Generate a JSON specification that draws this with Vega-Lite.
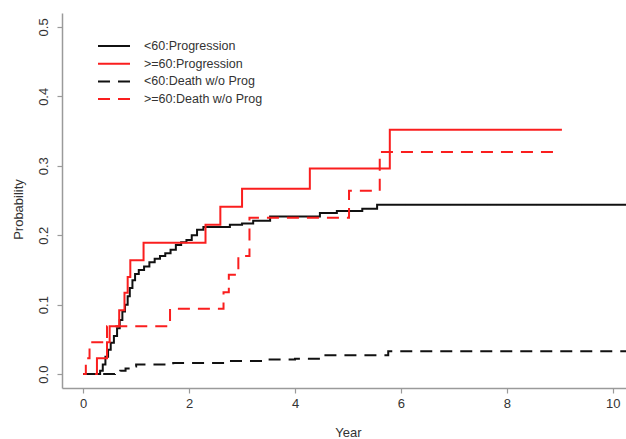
{
  "$schema": "https://vega.github.io/schema/vega-lite/v6.json",
  "autosize": {"type": "none"},
  "padding": {"left": 62, "top": 13, "right": 0, "bottom": 51},
  "width": 564,
  "height": 375,
  "background": "white",
  "config": {
    "view": {"stroke": null},
    "font": "Liberation Sans",
    "axis": {"grid": false, "domainColor": "#9a9a9a", "tickColor": "#9a9a9a", "domainWidth": 1.5, "tickWidth": 1.2, "tickSize": 5, "labelColor": "#333333", "labelFontSize": 13, "labelFont": "Liberation Sans", "titleFont": "Liberation Sans", "titleFontSize": 13, "titleFontWeight": "normal", "titleColor": "#333333"}
  },
  "data": {"values": [
    {"series": "<60:Progression", "year": 0, "prob": 0},
    {"series": "<60:Progression", "year": 0.27, "prob": 0},
    {"series": "<60:Progression", "year": 0.32, "prob": 0.005},
    {"series": "<60:Progression", "year": 0.37, "prob": 0.014},
    {"series": "<60:Progression", "year": 0.42, "prob": 0.025},
    {"series": "<60:Progression", "year": 0.47, "prob": 0.035},
    {"series": "<60:Progression", "year": 0.52, "prob": 0.045},
    {"series": "<60:Progression", "year": 0.58, "prob": 0.055},
    {"series": "<60:Progression", "year": 0.64, "prob": 0.066},
    {"series": "<60:Progression", "year": 0.69, "prob": 0.078},
    {"series": "<60:Progression", "year": 0.74, "prob": 0.09},
    {"series": "<60:Progression", "year": 0.79, "prob": 0.1},
    {"series": "<60:Progression", "year": 0.84, "prob": 0.112},
    {"series": "<60:Progression", "year": 0.88, "prob": 0.124},
    {"series": "<60:Progression", "year": 0.93, "prob": 0.135},
    {"series": "<60:Progression", "year": 0.98, "prob": 0.144},
    {"series": "<60:Progression", "year": 1.05, "prob": 0.15},
    {"series": "<60:Progression", "year": 1.15, "prob": 0.155},
    {"series": "<60:Progression", "year": 1.25, "prob": 0.161},
    {"series": "<60:Progression", "year": 1.35, "prob": 0.166},
    {"series": "<60:Progression", "year": 1.45, "prob": 0.17},
    {"series": "<60:Progression", "year": 1.55, "prob": 0.174},
    {"series": "<60:Progression", "year": 1.65, "prob": 0.179},
    {"series": "<60:Progression", "year": 1.75, "prob": 0.186},
    {"series": "<60:Progression", "year": 1.85, "prob": 0.19},
    {"series": "<60:Progression", "year": 1.95, "prob": 0.193},
    {"series": "<60:Progression", "year": 2.05, "prob": 0.2},
    {"series": "<60:Progression", "year": 2.15, "prob": 0.208},
    {"series": "<60:Progression", "year": 2.27, "prob": 0.212},
    {"series": "<60:Progression", "year": 2.77, "prob": 0.215},
    {"series": "<60:Progression", "year": 3.0, "prob": 0.217},
    {"series": "<60:Progression", "year": 3.21, "prob": 0.221},
    {"series": "<60:Progression", "year": 3.53, "prob": 0.227},
    {"series": "<60:Progression", "year": 4.47, "prob": 0.232},
    {"series": "<60:Progression", "year": 4.79, "prob": 0.235},
    {"series": "<60:Progression", "year": 5.27, "prob": 0.238},
    {"series": "<60:Progression", "year": 5.55, "prob": 0.244},
    {"series": "<60:Progression", "year": 10.25, "prob": 0.244},
    {"series": ">=60:Progression", "year": 0, "prob": 0},
    {"series": ">=60:Progression", "year": 0.26, "prob": 0.023},
    {"series": ">=60:Progression", "year": 0.45, "prob": 0.046},
    {"series": ">=60:Progression", "year": 0.5, "prob": 0.069},
    {"series": ">=60:Progression", "year": 0.68, "prob": 0.092},
    {"series": ">=60:Progression", "year": 0.78, "prob": 0.117},
    {"series": ">=60:Progression", "year": 0.84, "prob": 0.14},
    {"series": ">=60:Progression", "year": 0.89, "prob": 0.164},
    {"series": ">=60:Progression", "year": 1.14, "prob": 0.189},
    {"series": ">=60:Progression", "year": 2.31, "prob": 0.215},
    {"series": ">=60:Progression", "year": 2.59, "prob": 0.241},
    {"series": ">=60:Progression", "year": 3.0, "prob": 0.267},
    {"series": ">=60:Progression", "year": 4.28, "prob": 0.296},
    {"series": ">=60:Progression", "year": 5.79, "prob": 0.352},
    {"series": ">=60:Progression", "year": 9.04, "prob": 0.352},
    {"series": "<60:Death w/o Prog", "year": 0, "prob": 0},
    {"series": "<60:Death w/o Prog", "year": 0.5, "prob": 0},
    {"series": "<60:Death w/o Prog", "year": 0.6, "prob": 0.002},
    {"series": "<60:Death w/o Prog", "year": 0.7, "prob": 0.005},
    {"series": "<60:Death w/o Prog", "year": 0.8, "prob": 0.008},
    {"series": "<60:Death w/o Prog", "year": 0.9, "prob": 0.011},
    {"series": "<60:Death w/o Prog", "year": 1.0, "prob": 0.014},
    {"series": "<60:Death w/o Prog", "year": 1.7, "prob": 0.016},
    {"series": "<60:Death w/o Prog", "year": 2.68, "prob": 0.019},
    {"series": "<60:Death w/o Prog", "year": 3.5, "prob": 0.021},
    {"series": "<60:Death w/o Prog", "year": 4.0, "prob": 0.022},
    {"series": "<60:Death w/o Prog", "year": 4.53, "prob": 0.027},
    {"series": "<60:Death w/o Prog", "year": 5.76, "prob": 0.033},
    {"series": "<60:Death w/o Prog", "year": 10.25, "prob": 0.033},
    {"series": ">=60:Death w/o Prog", "year": 0, "prob": 0},
    {"series": ">=60:Death w/o Prog", "year": 0.05, "prob": 0.023},
    {"series": ">=60:Death w/o Prog", "year": 0.12, "prob": 0.046},
    {"series": ">=60:Death w/o Prog", "year": 0.45, "prob": 0.069},
    {"series": ">=60:Death w/o Prog", "year": 1.64, "prob": 0.094},
    {"series": ">=60:Death w/o Prog", "year": 2.65, "prob": 0.118},
    {"series": ">=60:Death w/o Prog", "year": 2.75, "prob": 0.143},
    {"series": ">=60:Death w/o Prog", "year": 2.93, "prob": 0.17},
    {"series": ">=60:Death w/o Prog", "year": 3.14, "prob": 0.225},
    {"series": ">=60:Death w/o Prog", "year": 5.02, "prob": 0.264},
    {"series": ">=60:Death w/o Prog", "year": 5.6, "prob": 0.32},
    {"series": ">=60:Death w/o Prog", "year": 8.95, "prob": 0.32}
  ]},
  "mark": {"type": "line", "interpolate": "step-after", "strokeWidth": 2, "clip": true},
  "encoding": {
    "x": {"field": "year", "type": "quantitative", "title": "Year",
      "scale": {"domain": [-0.4, 10.25], "nice": false, "zero": false},
      "axis": {"values": [0, 2, 4, 6, 8, 10], "labelPadding": 4, "titleX": 286, "titleY": 44, "titleBaseline": "middle", "titleAlign": "center"}},
    "y": {"field": "prob", "type": "quantitative", "title": "Probability",
      "scale": {"domain": [-0.02, 0.52], "nice": false, "zero": false},
      "axis": {"values": [0, 0.1, 0.2, 0.3, 0.4, 0.5], "format": ".1f", "labelAngle": -90, "labelAlign": "center", "labelBaseline": "bottom", "labelPadding": 7, "titleX": -44, "titleY": 196, "titleAngle": -90, "titleAlign": "center", "titleBaseline": "middle"}},
    "color": {"field": "series", "type": "nominal",
      "scale": {"domain": ["<60:Progression", ">=60:Progression", "<60:Death w/o Prog", ">=60:Death w/o Prog"], "range": ["#111111", "#fa1e1e", "#111111", "#fa1e1e"]},
      "legend": {"title": null, "orient": "none", "legendX": 43, "legendY": 24, "symbolType": "M-2,0H2", "symbolSize": 256, "symbolStrokeWidth": 2, "labelFontSize": 12.5, "labelColor": "#333333", "labelOffset": 21, "rowPadding": 1.7}},
    "strokeDash": {"field": "series", "type": "nominal",
      "scale": {"domain": ["<60:Progression", ">=60:Progression", "<60:Death w/o Prog", ">=60:Death w/o Prog"], "range": [[1, 0], [1, 0], [12, 8], [12, 8]]},
      "legend": {"title": null, "orient": "none", "legendX": 43, "legendY": 24, "symbolType": "M-2,0H2", "symbolSize": 256, "symbolStrokeWidth": 2, "labelFontSize": 12.5, "labelColor": "#333333", "labelOffset": 21, "rowPadding": 1.7}}
  }
}
